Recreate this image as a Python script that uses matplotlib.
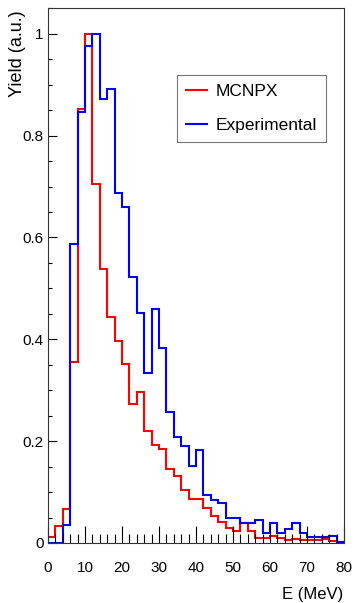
import numpy as np
import matplotlib
matplotlib.use("Agg")
import matplotlib.pyplot as plt
from matplotlib.ticker import MultipleLocator

plt.rcParams['font.family'] = ['Liberation Sans', 'DejaVu Sans']

# 2 MeV bins from 0 to 80 MeV
edges = np.arange(0, 82, 2)

mcnpx = [0.011, 0.034, 0.067, 0.355, 0.852, 1.000, 0.705, 0.538, 0.443, 0.397,
         0.352, 0.272, 0.296, 0.219, 0.192, 0.184, 0.145, 0.131, 0.104, 0.087,
         0.087, 0.068, 0.054, 0.041, 0.029, 0.024, 0.040, 0.024, 0.009, 0.009,
         0.014, 0.009, 0.006, 0.008, 0.006, 0.006, 0.006, 0.007, 0.003, 0.002]

experimental = [0.000, 0.000, 0.035, 0.587, 0.847, 0.975, 1.000, 0.872, 0.892, 0.687,
                0.659, 0.523, 0.451, 0.334, 0.459, 0.382, 0.258, 0.209, 0.190, 0.152,
                0.182, 0.095, 0.085, 0.079, 0.050, 0.050, 0.039, 0.039, 0.045, 0.019,
                0.039, 0.019, 0.027, 0.040, 0.019, 0.012, 0.012, 0.012, 0.014, 0.002]

W, H = 356, 603
fig = plt.figure(figsize=(W / 100, H / 100), dpi=100)
ax = fig.add_axes([48 / W, (H - 543) / H, (344 - 48) / W, (543 - 8.3) / H])

ax.stairs(mcnpx, edges, color='#ff0000', lw=1.5, label='MCNPX')
ax.stairs(experimental, edges, color='#0000ff', lw=1.5, label='Experimental')

ax.set_xlim(0, 80)
ax.set_ylim(0, 1.05)

ax.xaxis.set_major_locator(MultipleLocator(10))
ax.xaxis.set_minor_locator(MultipleLocator(2))
ax.yaxis.set_major_locator(MultipleLocator(0.2))
ax.yaxis.set_minor_locator(MultipleLocator(0.05))
ax.set_yticks([0, 0.2, 0.4, 0.6, 0.8, 1.0])
ax.set_yticklabels(['0', '0.2', '0.4', '0.6', '0.8', '1'])

ax.tick_params(axis='x', which='major', direction='in', length=12, width=0.8,
               pad=13, labelsize=11, top=False)
ax.tick_params(axis='x', which='minor', direction='in', length=6.5, width=0.8, top=False)
ax.tick_params(axis='y', which='major', direction='in', length=6.5, width=0.8,
               pad=3, labelsize=11, right=False)
ax.tick_params(axis='y', which='minor', direction='in', length=3.2, width=0.8, right=False)

for s in ax.spines.values():
    s.set_linewidth(0.8)
    s.set_color('#333333')

fig.text(17 / W, 1 - 10 / H, 'Yield (a.u.)', rotation=90, ha='center', va='top',
         fontsize=13)
fig.text(343 / W, 1 - 594 / H, 'E (MeV)', ha='right', va='center', fontsize=12)

leg = ax.legend(loc='upper left', bbox_to_anchor=(177 / W, 1 - 75 / H),
                bbox_transform=fig.transFigure, fontsize=12.5, frameon=True,
                fancybox=False, handlelength=1.2, handletextpad=0.55,
                labelspacing=1.1, borderpad=0.5, borderaxespad=0)
leg.get_frame().set_edgecolor('#555555')
leg.get_frame().set_linewidth(0.8)

fig.savefig('out.png', dpi=100)
